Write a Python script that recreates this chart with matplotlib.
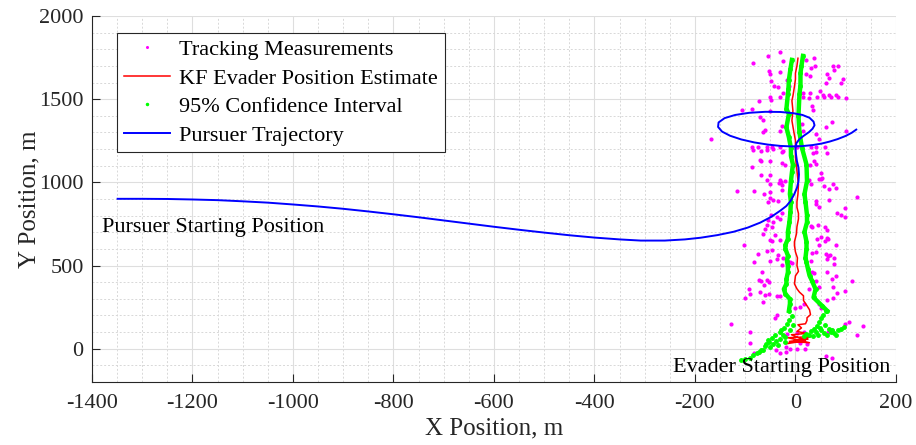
import matplotlib
matplotlib.use("Agg")
import matplotlib.pyplot as plt
from matplotlib.ticker import MultipleLocator

plt.rcParams['font.family'] = ['Liberation Serif', 'DejaVu Serif']
plt.rcParams['axes.unicode_minus'] = False

# radar measurements of the evader (m)
meas_x = [-54, -31, -84, -24, 22, 36, 38, 30, 75, 84, 76, -53, -51, -31, 21, 29, 62, 66, 60,
          95, 91, -48, -43, -35, -16, -12, -24, 16, 29, 48, 54, 66, 80,
          -72, -50, -48, -31, -106, -86, -70, -64, -60, -64, -50, 16, 26, 43, 56, 70, 84, 101,
          33, 35, 73, 60, 100, -169, -26, -30, 13, 16, 40, 46, -86, -74, -56, -46, -30, 3, 30, 40, 58,
          -84, -68, -56, -44, -26, -24, -70, -68, -50, -26, -20, -86, 35, 40, 62, 36, 40, 28,
          50, 53, 46, 50, 26, 30, 75, 56, 80, 66, 123, 40, 66, -68, -50, -56, -50,
          -30, -28, -32, -26, -20, -117, -82, -62, -50, -26, -50, -44, -34, -54,
          40, 46, 98, 82, 90, 98, 44, 30, 33, 58, 63, 50, 62, 64, 58, 42, 46, 40, 33, 60, 68, 64, 80,
          -48, -36, -30, -54, -44, -26, -56, -46, -60, -64, -40, -103, -50, -46, -30, -74, -56, -46, -34,
          -82, -50, -36, -24, -26, -10, -7, 30, 63, 76, 76, -66, -68, -73, -56, -53, -63,
          -93, -91, -70, -60, -53, -100, -64, -36, -30, 33, 36, 40, 46, 26,
          63, 73, 80, 113, 75, 98, 82, 75, 62, 17, 10, 0, 46, 51,
          -36, -40, -128, -90, -90, -17, 3, 17, 10, 23, -18, -10, 3, 20,
          99, 106, 135, 123, 64, 73, -38, -30, -18, -82, -73, 73, 60]
meas_y = [1760, 1786, 1718, 1730, 1736, 1747, 1700, 1688, 1700, 1700, 1676, 1671, 1652, 1663, 1652, 1641, 1652, 1628, 1598,
          1622, 1598, 1610, 1581, 1574, 1616, 1581, 1537, 1537, 1537, 1549, 1525, 1525, 1525,
          1491, 1515, 1496, 1513, 1435, 1441, 1395, 1375, 1315, 1303, 1431, 1515, 1507, 1515, 1515, 1513, 1513, 1507,
          1461, 1435, 1363, 1333, 1311, 1261, 1341, 1309, 1351, 1311, 1291, 1261, 1213, 1211, 1215, 1211, 1213, 1215, 1211, 1213, 1211,
          1197, 1189, 1197, 1201, 1183, 1189, 1137, 1129, 1129, 1117, 1105, 1093, 1177, 1183, 1177, 1131, 1111, 1105,
          1057, 1027, 1023, 1021, 1017, 991, 991, 979, 967, 957, 913, 889, 891, 1045, 1045, 1017, 991,
          1017, 1003, 997, 987, 1009, 949, 949, 931, 943, 951, 907, 891, 889, 883,
          867, 853, 847, 813, 803, 793, 745, 739, 733, 733, 715, 673, 667, 662, 649, 662, 626, 582, 578, 572, 566, 558, 625,
          805, 793, 782, 775, 763, 813, 746, 733, 722, 692, 685, 626, 653, 647, 653, 572, 587, 593, 566,
          523, 529, 542, 548, 502, 523, 518, 529, 542, 510, 548, 462, 408, 414, 414, 402, 382,
          358, 328, 342, 322, 328, 302, 282, 318, 318, 462, 454, 408, 368, 358,
          462, 422, 438, 408, 368, 348, 334, 302, 294, 268, 248, 242, 268, 242,
          204, 184, 150, 98, 34, 90, 94, 98, 34, 30, 10, -2, -2, -2,
          150, 158, 138, 84, 98, 114, -6, -26, -22, -26, -22, -56, -42]

# Kalman filter estimate of the evader position (m)
kf_x = [0, 25, -12, 28, -15, 30, -18, 20, -8, 22, 3, 12, 5, 20, 23, 23, 30, 28, 23, 16, 16, 8, 3, -2,
        0, 6, 3, 4, 0, -2, -2, 2, 3, 6, 6, 3, 3, 5, 6, 4, 2, 0, 0, 0, -3, -7, -5, -7, -5, -2, 0, 0, 3, 5]
kf_y = [50, 58, 44, 36, 66, 72, 30, 48, 84, 92, 104, 125, 144, 150, 170, 186, 205, 234, 258, 290, 318, 340, 360, 390,
        438, 465, 500, 546, 582, 620, 643, 690, 733, 780, 813, 850, 883, 930, 987, 1040, 1100, 1150, 1195, 1251,
        1300, 1371, 1430, 1491, 1519, 1576, 1620, 1656, 1700, 1746]

# 95% confidence bounds on the estimate (m)
ci_left_x = [-13, -11, -11, -20, -23, -18, -18, -15, -15, -17, -15, -20, -20, -15, -15, -12, -10, -9, -11, -9,
             -7, -5, -9, -9, -13, -18, -13, -18, -15, -14, -13, -10, -7]
ci_left_y = [228, 270, 298, 330, 358, 390, 418, 460, 498, 530, 560, 600, 623, 660, 703, 760, 823, 883, 930, 1007,
             1060, 1107, 1160, 1207, 1271, 1331, 1411, 1441, 1531, 1560, 1616, 1680, 1736]
ci_right_x = [63, 53, 36, 40, 33, 28, 25, 22, 20, 22, 22, 18, 23, 23, 20, 18, 23, 22, 13, 8, 6, 8, 10, 10, 12, 15]
ci_right_y = [228, 258, 308, 358, 408, 440, 478, 520, 546, 600, 643, 703, 760, 803, 883, 930, 1007, 1107, 1207,
              1300, 1400, 1531, 1580, 1656, 1700, 1760]
# early-time bounds, before the filter settles
ci_start_x = [-7, -12, -17, -23, -30, -40, -46, -52, -60, -68, -76, -84, -90, -100, -108, -30, -20, -45, -55, -35,
              -65, -25, -10, -5, 60, 55, 50, 46, 43, 36, 30, 22, 17, 40, 50, 56, 63, 70, 76, 84, 90, 66, 45,
              35, 80, 96, -38, -50, -20, -72, -58, -28, 26, 48, 72, 58]
ci_start_y = [194, 170, 150, 124, 100, 80, 64, 40, 14, -5, -26, -40, -56, -62, -70, 60, 40, 30, 50, 20,
              -10, 85, 110, 140, 224, 200, 184, 160, 134, 118, 104, 90, 74, 100, 110, 94, 84, 100, 94, 110, 118,
              120, 85, 75, 80, 128, 44, 8, 70, -18, 26, 110, 82, 126, 112, 140]

# pursuer path (m)
pur_x = [-1349, -1300, -1250, -1200, -1150, -1100, -1050, -1000, -950, -900, -850, -800, -750, -700, -650,
         -600, -550, -500, -450, -400, -350, -308, -260, -220, -189, -155, -123, -95, -70, -48, -30, -18,
         -10, -3, 3, 6, 7, 6, 3, 1, 0, 2, 8, 17, 27, 34, 38, 36, 28, 14, -5, -30, -60, -92, -120, -141, -153,
         -154, -146, -130, -108, -82, -55, -30, -8, 14, 34, 52, 68, 84, 100, 112, 121]
pur_y = [901, 901, 900, 897, 893, 886, 878, 867, 855, 841, 825, 808, 790, 771, 752, 733, 715, 698, 682, 668,
         657, 650, 650, 657, 667, 683, 703, 728, 758, 793, 830, 858, 887, 925, 967, 1005, 1047, 1090, 1127,
         1170, 1207, 1236, 1260, 1281, 1302, 1322, 1343, 1365, 1388, 1405, 1416, 1423, 1424, 1418, 1405, 1386,
         1360, 1333, 1305, 1280, 1258, 1240, 1227, 1219, 1216, 1218, 1224, 1233, 1245, 1260, 1279, 1298, 1317]

fig = plt.figure(figsize=(9.16, 4.45), dpi=100)
ax = fig.add_axes([0.1004, 0.1416, 0.8777, 0.8225])

ax.plot(meas_x, meas_y, '.', color=(1, 0, 1), markersize=4, label='Tracking Measurements')
ax.plot(kf_x, kf_y, '-', color='red', linewidth=1.1, label='KF Evader Position Estimate')
ax.plot(ci_left_x, ci_left_y, '.-', color=(0, 1, 0), linewidth=3.2, markersize=5)
ax.plot(ci_right_x, ci_right_y, '.-', color=(0, 1, 0), linewidth=3.2, markersize=5)
ax.plot(ci_start_x, ci_start_y, '.', color=(0, 1, 0), markersize=5, label='95% Confidence Interval')
ax.plot(pur_x, pur_y, '-', color='blue', linewidth=1.4, label='Pursuer Trajectory')

ax.text(-1380, 730, 'Pursuer Starting Position', fontsize=16, va='center', ha='left')
ax.text(188, -114, 'Evader Starting Position', fontsize=16, va='center', ha='right')

ax.set_xlim(-1400, 200)
ax.set_ylim(-200, 2000)
ax.xaxis.set_major_locator(MultipleLocator(200))
ax.xaxis.set_minor_locator(MultipleLocator(50))
ax.yaxis.set_major_locator(MultipleLocator(500))
ax.yaxis.set_minor_locator(MultipleLocator(100))
ax.grid(True, which='major', color='#dedede', linewidth=0.8)
ax.grid(True, which='minor', color='#d8d8d8', linewidth=0.7, linestyle=(0, (2, 2)))
ax.set_axisbelow(True)

for s in ['top', 'right']:
    ax.spines[s].set_visible(False)
for s in ['left', 'bottom']:
    ax.spines[s].set_color('#262626')
ax.tick_params(which='major', direction='in', length=6, color='#262626', labelsize=16, labelcolor='#262626')
ax.tick_params(axis='x', which='major', pad=9)
ax.tick_params(axis='y', which='major', pad=6)
ax.tick_params(which='minor', length=0)

ax.set_xlabel('X Position, m', fontsize=18, color='#262626', labelpad=3)
ax.set_ylabel('Y Position, m', fontsize=18, color='#262626', labelpad=-1)

leg = ax.legend(loc='upper left', bbox_to_anchor=(0.031, 0.954), borderaxespad=0, fontsize=16,
                fancybox=False, framealpha=1, edgecolor='#262626', handlelength=2.1,
                labelspacing=0.36, borderpad=0.3, handletextpad=0.4, markerscale=0.6)
leg.get_frame().set_linewidth(0.8)

fig.savefig('out.png', dpi=100)
